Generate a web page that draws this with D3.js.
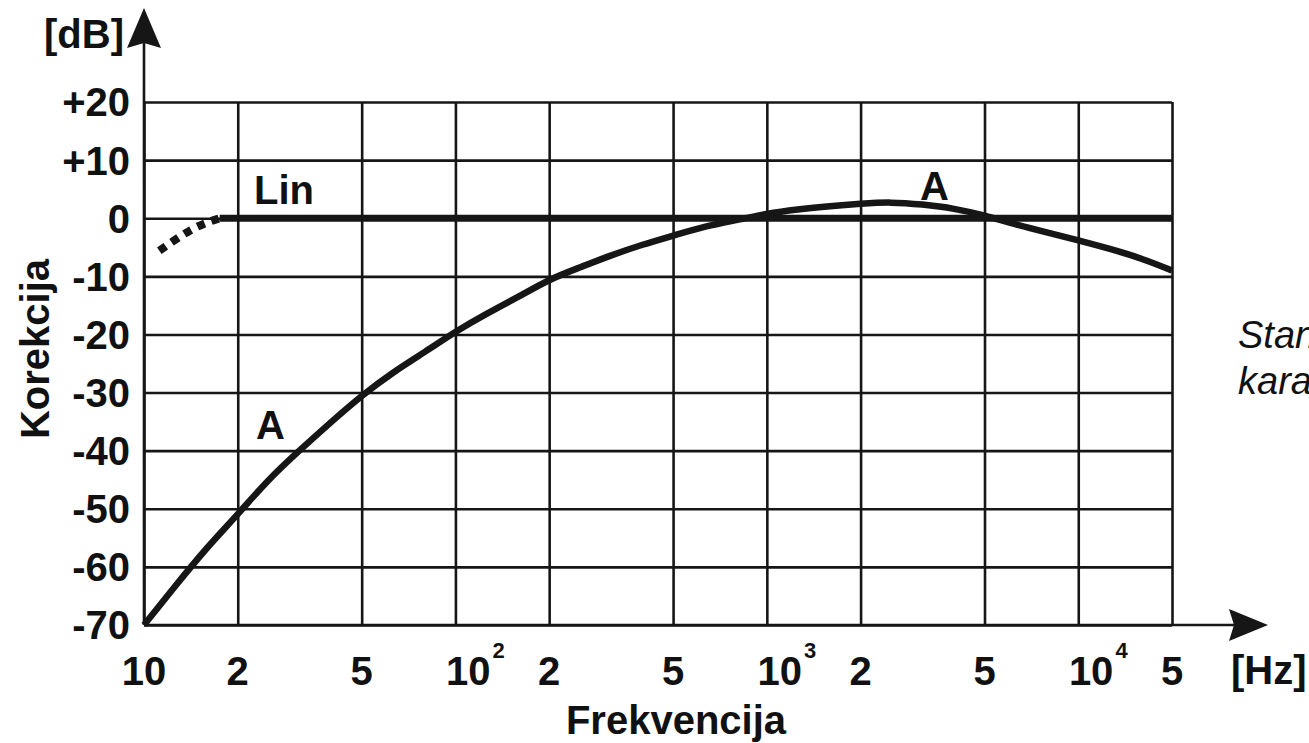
<!DOCTYPE html>
<html>
<head>
<meta charset="utf-8">
<script src="https://cdn.jsdelivr.net/npm/d3@7"></script>
<style>
  body { margin: 0; background: #fff; }
  svg text { font-family: "Liberation Sans", Arial, sans-serif; fill: #111; }
  .lbl { font-weight: bold; font-size: 40px; }
</style>
</head>
<body>
<svg id="chart" width="1309" height="743"></svg>
<script>
// tick values and labels as printed on the chart
var xTicks = [10, 20, 50, 100, 200, 500, 1000, 2000, 5000, 10000, 20000];
var xTickBase = ["10", "2", "5", "10", "2", "5", "10", "2", "5", "10", "5"];
var xTickExp = ["", "", "", "2", "", "", "3", "", "", "4", ""];
var yTicks = [20, 10, 0, -10, -20, -30, -40, -50, -60, -70];
var yTickLabels = ["+20", "+10", "0", "-10", "-20", "-30", "-40", "-50", "-60", "-70"];

// A curve (Hz, dB)
var aFreq = [10, 12.5, 16, 20, 25, 31.5, 40, 50, 63, 80, 100, 125, 160, 200, 250, 315, 400, 500, 630, 800,
             1000, 1250, 1600, 2000, 2500, 3150, 4000, 5000, 6300, 8000, 10000, 12500, 16000, 20000];
var aDb = [-70, -63.5, -56.5, -51, -45, -40, -35, -30.5, -26.5, -23, -19.5, -16.5, -13.5, -10.5, -8.5, -6.4, -4.5, -3, -1.4, -0.3,
           0.8, 1.5, 2.1, 2.5, 2.8, 2.4, 1.7, 0.5, -1.1, -2.5, -3.8, -5.2, -6.9, -9];

// Lin curve: flat part and dotted low-end roll-off
var linFreq = [17.5, 20000];
var linDb = [0, 0];
var linLowFreq = [11.2, 12.5, 14, 15.6, 17.5];
var linLowDb = [-5.6, -3.8, -2.1, -0.9, 0];

var svg = d3.select("#chart");

var x = d3.scaleLog().domain([10, 20000]).range([144, 1172]);
var y = d3.scaleLinear().domain([-70, 20]).range([625, 102]);

var ink = "#161616";

// grid
var gx = svg.append("g")
  .attr("transform", "translate(0," + y(-70) + ")")
  .call(d3.axisBottom(x).tickValues(xTicks).tickSize(-(y(-70) - y(20))).tickFormat(""));
var gy = svg.append("g")
  .attr("transform", "translate(" + x(10) + ",0)")
  .call(d3.axisLeft(y).tickValues(yTicks).tickSize(-(x(20000) - x(10))).tickFormat(""));
[gx, gy].forEach(function(g) {
  g.select(".domain").remove();
  g.selectAll("line").attr("stroke", ink).attr("stroke-width", 2.6);
});

// axes with arrows
svg.append("line")
  .attr("x1", x(10)).attr("y1", y(-70)).attr("x2", x(10)).attr("y2", 30)
  .attr("stroke", ink).attr("stroke-width", 2.6);
svg.append("path")
  .attr("d", "M" + x(10) + ",8 L" + (x(10) + 17) + ",48 L" + x(10) + ",43 L" + (x(10) - 17) + ",48 Z")
  .attr("fill", ink);
svg.append("line")
  .attr("x1", x(10)).attr("y1", y(-70)).attr("x2", 1250).attr("y2", y(-70))
  .attr("stroke", ink).attr("stroke-width", 2.6);
svg.append("path")
  .attr("d", "M1268," + y(-70) + " L1229," + (y(-70) - 16) + " L1234," + y(-70) + " L1229," + (y(-70) + 16) + " Z")
  .attr("fill", ink);

// curves
var line = d3.line()
  .x(function(d) { return x(d[0]); })
  .y(function(d) { return y(d[1]); })
  .curve(d3.curveBasis);

svg.append("path")
  .datum(linFreq.map(function(f, i) { return [f, linDb[i]]; }))
  .attr("d", line).attr("fill", "none").attr("stroke", ink).attr("stroke-width", 7);

svg.append("path")
  .datum(linLowFreq.map(function(f, i) { return [f, linLowDb[i]]; }))
  .attr("d", line).attr("fill", "none").attr("stroke", ink)
  .attr("stroke-width", 8).attr("stroke-dasharray", "8,7");

svg.append("path")
  .datum(aFreq.map(function(f, i) { return [f, aDb[i]]; }))
  .attr("d", line).attr("fill", "none").attr("stroke", ink).attr("stroke-width", 6.5);

// y tick labels
svg.selectAll(".ylbl").data(yTicks).enter().append("text")
  .attr("class", "lbl")
  .attr("x", 130)
  .attr("y", function(d) { return y(d); })
  .attr("dy", "0.36em")
  .attr("text-anchor", "end")
  .text(function(d, i) { return yTickLabels[i]; });

// x tick labels with exponents
var xl = svg.selectAll(".xlbl").data(xTicks).enter().append("text")
  .attr("class", "lbl")
  .attr("x", function(d, i) { return x(d) + (xTickExp[i] ? 20 : 0); })
  .attr("y", 685)
  .attr("text-anchor", "middle");
xl.append("tspan").text(function(d, i) { return xTickBase[i]; });
xl.append("tspan")
  .attr("font-size", "22px")
  .attr("dx", 2)
  .attr("dy", -27)
  .text(function(d, i) { return xTickExp[i]; });

// titles and curve labels
svg.append("text").attr("class", "lbl").attr("x", 124).attr("y", 48).attr("text-anchor", "end").text("[dB]");
svg.append("text").attr("class", "lbl").attr("x", 1231).attr("y", 684).text("[Hz]");
svg.append("text").attr("class", "lbl").attr("x", 676).attr("y", 734).attr("text-anchor", "middle").text("Frekvencija");
svg.append("text").attr("class", "lbl")
  .attr("transform", "translate(49,349) rotate(-90)")
  .attr("text-anchor", "middle").text("Korekcija");
svg.append("text").attr("class", "lbl").attr("x", 254).attr("y", 204).text("Lin");
svg.append("text").attr("class", "lbl").attr("x", 920).attr("y", 200).text("A");
svg.append("text").attr("class", "lbl").attr("x", 256).attr("y", 439).text("A");

svg.append("text").attr("x", 1238).attr("y", 348)
  .attr("font-size", "38px").attr("font-style", "italic").text("Standardne");
svg.append("text").attr("x", 1238).attr("y", 394)
  .attr("font-size", "38px").attr("font-style", "italic").text("karakteristike");
</script>
</body>
</html>
